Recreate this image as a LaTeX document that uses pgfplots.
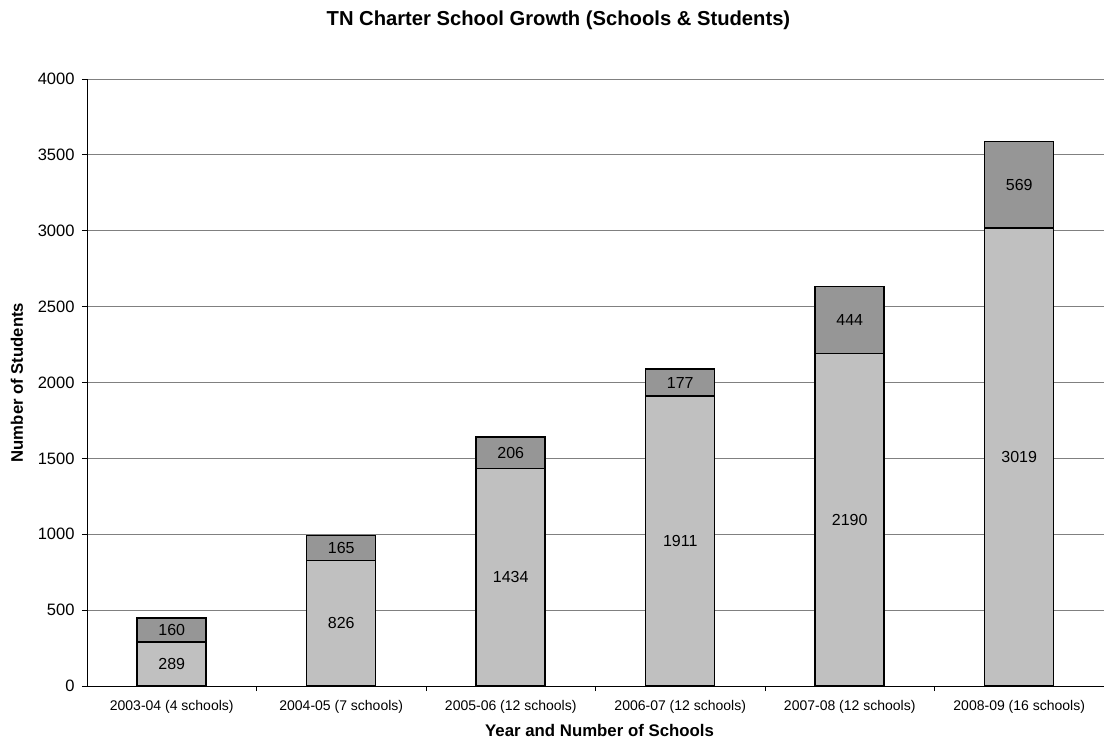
\documentclass[border=0pt]{standalone}
\usepackage{fontspec}
\setmainfont{Liberation Sans}
\usepackage{pgfplots}
\pgfplotsset{compat=1.18}
\definecolor{lowgray}{HTML}{C0C0C0}
\definecolor{topgray}{HTML}{969696}
\definecolor{gridgray}{HTML}{808080}
\begin{document}
\begin{tikzpicture}
\useasboundingbox (-87pt,-54pt) rectangle (1017pt,686pt);
\begin{axis}[
  at={(0pt,0pt)}, anchor=south west,
  scale only axis, width=1017pt, height=607pt,
  ybar stacked, bar width=69pt,
  xmin=-0.5, xmax=5.5, ymin=0, ymax=4000,
  axis x line*=bottom, axis y line*=left,
  axis line style={line width=0.8pt, black, -},
  xtick={0.5,1.5,2.5,3.5,4.5}, xticklabels={},
  extra x ticks={0,1,2,3,4,5},
  extra x tick labels={2003-04 (4 schools),2004-05 (7 schools),2005-06 (12 schools),2006-07 (12 schools),2007-08 (12 schools),2008-09 (16 schools)},
  extra x tick style={major tick length=0pt, grid=none},
  ytick={0,500,...,4000},
  tick align=outside, major tick length=5pt,
  tick style={black, line width=0.8pt},
  ymajorgrids, grid style={gridgray, line width=0.8pt},
  /pgf/number format/assume math mode=true,
  /pgf/number format/1000 sep={},
  yticklabel style={font=\fontsize{16.5}{19}\selectfont, xshift=-4pt},
  xticklabel style={font=\fontsize{14}{16}\selectfont, yshift=-11pt},
  ylabel={Number of Students},
  xlabel={Year and Number of Schools},
  every axis y label/.style={at={(axis description cs:-0.0688,0.5)}, rotate=90, anchor=center, font=\bfseries\fontsize{16.7}{20}\selectfont},
  every axis x label/.style={at={(axis description cs:0.504,-0.0741)}, anchor=center, font=\bfseries\fontsize{16.8}{20}\selectfont},
  title={TN Charter School Growth (Schools \& Students)},
  every axis title/.style={at={(axis description cs:0.4636,1.0972)}, anchor=center, font=\bfseries\fontsize{20.2}{24}\selectfont},
  nodes near coords,
  point meta=rawy,
  every node near coord/.append style={font=\fontsize{16}{19}\selectfont, black, anchor=center},
]
\addplot[fill=lowgray, draw=black, line width=1.5pt] coordinates {(0,289) (1,826) (2,1434) (3,1911) (4,2190) (5,3019)};
\addplot[fill=topgray, draw=black, line width=1.5pt] coordinates {(0,160) (1,165) (2,206) (3,177) (4,444) (5,569)};
\end{axis}
\end{tikzpicture}
\end{document}
